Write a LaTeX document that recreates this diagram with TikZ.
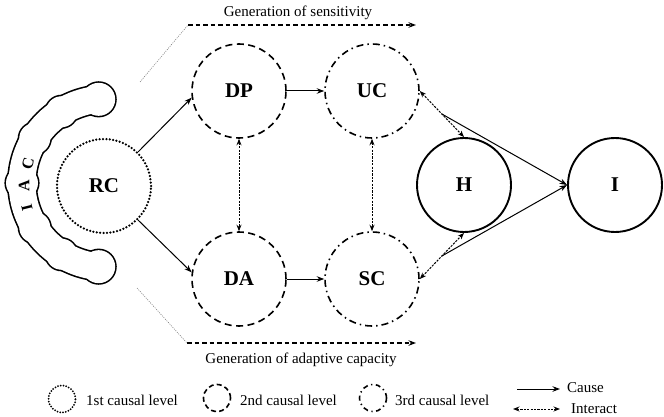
\documentclass[tikz,border=0pt]{standalone}
\usepackage{fontspec}
\setmainfont{Liberation Serif}
\usetikzlibrary{arrows.meta,calc}
\begin{document}
\begin{tikzpicture}[x=1pt,y=-1pt,
  lvlone/.style={circle,draw,line width=2.5pt,dash pattern=on 0pt off 3.4pt,line cap=round,inner sep=0pt},
  lvltwo/.style={circle,draw,line width=1.6pt,dash pattern=on 7pt off 4.5pt,inner sep=0pt},
  lvlthree/.style={circle,draw,line width=1.6pt,dash pattern=on 7pt off 4pt on 1.5pt off 4pt,inner sep=0pt},
  lvlsolid/.style={circle,draw,line width=1.9pt,inner sep=0pt},
  big/.style={minimum size=94pt,font=\fontsize{21}{24}\selectfont\bfseries},
  small/.style={minimum size=27pt},
  cause/.style={line width=1pt,-{Stealth[length=7.5pt,width=5.5pt]}},
  interact/.style={line width=1pt,dash pattern=on 2.2pt off 1.2pt,{Stealth[length=6.5pt,width=5pt]}-{Stealth[length=6.5pt,width=5pt]}},
  gen/.style={line width=1.1pt,dash pattern=on 4.5pt off 3pt,-{Stealth[length=7.5pt,width=5.5pt]}},
  guide/.style={line width=0.6pt,gray,dash pattern=on 1pt off 1.2pt},
  txt/.style={font=\fontsize{15}{18}\selectfont,inner sep=0pt},
  iac/.style={font=\fontsize{16}{18}\selectfont\bfseries,inner sep=0pt}]
\useasboundingbox (0,0) rectangle (664,417);
\fill[white] (0,0) rectangle (664,417);

% IAC band (canvas units, y up)
\coordinate (C) at (106,183);
\draw[line width=30pt,line cap=round] (C) ++(95:84pt) arc[start angle=95,end angle=265,radius=84pt];
\foreach \a/\r in {95/16.5,122/15.5,148/15.5,180/16,212/15.5,238/15.5,265/16.5}{\fill (C) ++(\a:84pt) circle[radius=\r pt+1.6pt];}
\draw[white,line width=26.8pt,line cap=round] (C) ++(95:84pt) arc[start angle=95,end angle=265,radius=84pt];
\foreach \a/\r in {95/16.5,122/15.5,148/15.5,180/16,212/15.5,238/15.5,265/16.5}{\fill[white] (C) ++(\a:84pt) circle[radius=\r pt];}
\node[iac,rotate=104] (li) at (27,208) {I};
\node[iac,rotate=90] (la) at (24,186) {A};
\node[iac,rotate=76] (lc) at (28,164) {C};

% main nodes
\node[lvlone,big] (RC) at (104,186) {RC};
\node[lvltwo,big] (DP) at (239,91) {DP};
\node[lvltwo,big] (DA) at (239,279) {DA};
\node[lvlthree,big] (UC) at (372,91) {UC};
\node[lvlthree,big] (SC) at (372,279) {SC};
\node[lvlsolid,big] (H) at (464,185) {H};
\node[lvlsolid,big] (I) at (615,185) {I};

% connectors
\draw[cause] (RC.45) -- (DP.188);
\draw[cause] (RC.-45) -- (DA.172);
\draw[cause] (DP.east) -- (UC.west);
\draw[cause] (DA.east) -- (SC.west);
\draw[interact] (DP.south) -- (DA.north);
\draw[interact] (UC.south) -- (SC.north);
\draw[interact] (UC.east) -- (H.north);
\draw[interact] (SC.east) -- (H.south);
\coordinate (m1) at ($(UC.east)!0.5!(H.north)$);
\coordinate (m2) at ($(SC.east)!0.5!(H.south)$);
\draw[cause] (m1) -- (I.west);
\draw[cause] (m2) -- (I.west);

% generation arrows
\coordinate (gs0) at (140,82);
\coordinate (gs1) at (188,25);
\coordinate (gs2) at (416,25);
\draw[guide] (gs0) -- (gs1);
\draw[gen] (gs1) -- (gs2);
\node[txt] (gst) at (298,13) {Generation of sensitivity};
\coordinate (ga0) at (137,288);
\coordinate (ga1) at (187,343);
\coordinate (ga2) at (416,343);
\draw[guide] (ga0) -- (ga1);
\draw[gen] (ga1) -- (ga2);
\node[txt] (gat) at (301,360) {Generation of adaptive capacity};

% legend
\node[lvlone,small,line width=2pt,dash pattern=on 0pt off 2.8pt] (k1) at (62,399) {};
\node[txt,anchor=west] (t1) at (86,400) {1st causal level};
\node[lvltwo,small,dash pattern=on 5pt off 3.2pt] (k2) at (217,398) {};
\node[txt,anchor=west] (t2) at (240,400) {2nd causal level};
\node[lvlthree,small,dash pattern=on 5pt off 3.5pt on 1.3pt off 3.5pt] (k3) at (373,398) {};
\node[txt,anchor=west] (t3) at (395,400) {3rd causal level};
\coordinate (c0) at (517,389);
\coordinate (c1) at (560,389);
\draw[cause] (c0) -- (c1);
\node[txt,anchor=west] (tc) at (567,388) {Cause};
\coordinate (i0) at (513,409);
\coordinate (i1) at (560,409);
\draw[interact] (i0) -- (i1);
\node[txt,anchor=west] (ti) at (571,409) {Interact};
\end{tikzpicture}
\end{document}
